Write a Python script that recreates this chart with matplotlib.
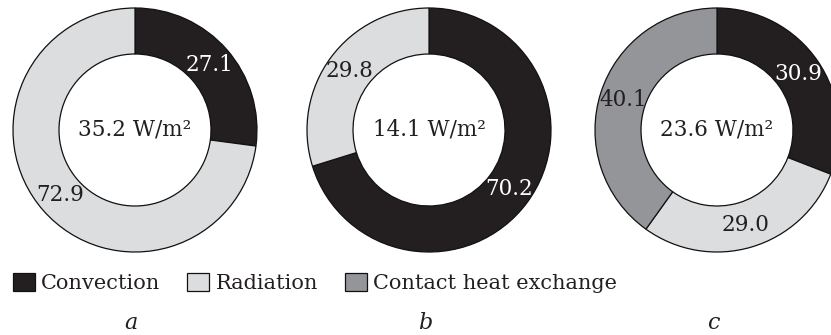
import matplotlib.pyplot as plt

# data (percent of total heat loss)
categories = ["Convection", "Radiation", "Contact heat exchange"]
colors = ["#231f20", "#dcdddf", "#939598"]

share_a = [27.1, 72.9]
share_b = [70.2, 29.8]
share_c = [30.9, 29.0, 40.1]
totals = ["35.2", "14.1", "23.6"]
panel_labels = ["a", "b", "c"]

plt.rcParams["font.family"] = ["DejaVu Serif"]


def DrawRing(ax, values, cx, cy, total, radius=122, width=46):
    wedges, texts, autotexts = ax.pie(
        values,
        colors=colors[:len(values)],
        startangle=90,
        counterclock=False,
        center=(cx, cy),
        radius=radius,
        autopct="%.1f",
        pctdistance=1 - width / radius / 2,
        wedgeprops=dict(width=width, edgecolor="#111111", linewidth=0.9),
        textprops=dict(fontsize=15.5),
        frame=True,
    )
    for w, t in zip(wedges, autotexts):
        # white label on the black slice
        if w.get_facecolor()[0] < 0.3:
            t.set_color("white")
        else:
            t.set_color("#231f20")
    ax.text(cx, cy, f"{total} W/m\u00b2", ha="center", va="center",
            fontsize=15.5, color="#231f20")
    return wedges


fig = plt.figure(figsize=(8.31, 3.35), dpi=100)
ax = fig.add_axes([0, 0, 1, 1])

centers_x = [135, 429, 717]
center_y = 205
DrawRing(ax, share_a, centers_x[0], center_y, totals[0])
DrawRing(ax, share_b, centers_x[1], center_y, totals[1])
wedges = DrawRing(ax, share_c, centers_x[2], center_y, totals[2])

for x, lab in zip(centers_x, panel_labels):
    ax.text(x - 4, 12, lab, ha="center", va="center", fontsize=16,
            style="italic", color="#231f20")

leg = ax.legend(wedges, categories, ncol=3, loc="center left",
                bbox_to_anchor=(13, 52), bbox_transform=ax.transData,
                frameon=False, fontsize=15, handlelength=1.05,
                handleheight=1.0, handletextpad=0.3, columnspacing=1.3,
                borderpad=0, borderaxespad=0)
for t in leg.get_texts():
    t.set_color("#231f20")

ax.set_xlim(0, 831)
ax.set_ylim(0, 335)
ax.set_aspect("equal")
ax.axis("off")

plt.savefig("out.png", dpi=100)
plt.close(fig)
